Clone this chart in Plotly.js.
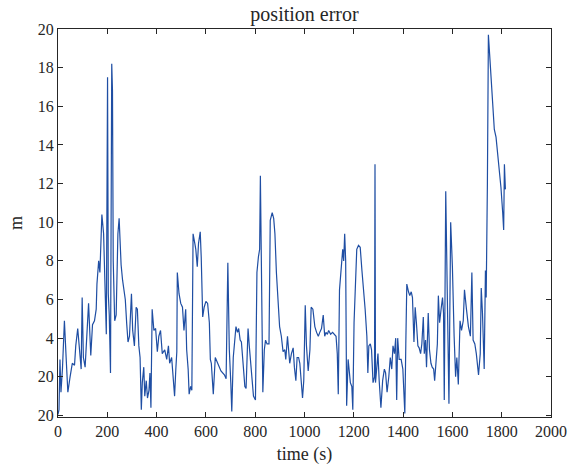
<!DOCTYPE html>
<html>
<head>
<meta charset="utf-8">
<script src="https://cdn.plot.ly/plotly-3.0.1.min.js"></script>
<style>html,body{margin:0;padding:0;background:#fff;}#chart{width:577px;height:467px;}</style>
</head>
<body>
<div id="chart"></div>
<script>
const timeS = [0,4,8,12,18,26,33,40,49,58,67,72,80,86,94,98,103,110,117,124,133,140,148,155,158,165,170,178,185,192,196,201,204,208,213,218,221,224,230,236,243,248,252,256,262,273,279,284,290,298,303,310,317,322,328,333,338,342,348,352,358,363,369,373,377,382,389,396,403,409,416,423,433,441,448,453,461,468,473,478,482,484,491,498,505,511,518,522,528,532,538,543,548,555,559,565,570,577,581,587,593,600,607,614,618,622,627,630,638,648,661,675,682,689,695,701,705,711,717,722,728,733,739,744,752,758,763,767,771,776,781,788,793,801,807,813,818,821,826,831,837,842,848,856,861,869,875,880,886,893,899,906,913,920,924,931,936,940,947,954,959,965,970,976,981,987,992,997,1003,1008,1015,1022,1027,1034,1042,1049,1056,1062,1069,1076,1082,1087,1093,1098,1106,1114,1122,1128,1133,1137,1142,1147,1152,1155,1159,1163,1167,1171,1177,1181,1186,1192,1196,1201,1207,1212,1219,1226,1233,1240,1246,1253,1257,1261,1267,1272,1278,1284,1286,1288,1294,1298,1303,1310,1317,1324,1329,1335,1342,1348,1354,1359,1365,1370,1374,1378,1384,1392,1399,1407,1411,1415,1422,1427,1433,1438,1444,1449,1454,1460,1465,1471,1476,1482,1486,1491,1495,1502,1507,1513,1518,1524,1528,1534,1539,1543,1548,1555,1560,1564,1567,1573,1578,1582,1586,1593,1600,1607,1613,1618,1624,1631,1637,1644,1649,1657,1665,1673,1679,1684,1691,1697,1706,1713,1717,1722,1729,1734,1737,1742,1746,1751,1756,1763,1770,1777,1784,1790,1797,1804,1808,1811,1815];
const posError = [0.05,0.3,2.9,1.2,2.4,4.9,3.0,1.2,2.0,2.7,2.6,3.6,4.5,3.4,2.4,6.1,3.0,2.5,4.4,5.8,3.1,4.7,4.9,5.5,6.8,8.0,7.4,10.4,9.4,5.8,4.2,17.5,6.3,5.2,2.2,18.2,16.8,8.0,4.9,5.2,9.4,10.2,8.8,7.8,7.0,6.0,4.7,3.8,4.1,6.3,4.4,3.6,5.6,5.5,3.6,3.0,0.3,1.7,2.5,1.0,1.8,0.9,1.3,2.2,0.4,5.5,4.4,4.5,3.3,4.1,4.4,3.2,3.4,2.9,3.6,2.7,3.0,1.8,1.0,2.4,3.3,7.4,6.3,5.8,5.6,4.4,5.5,3.4,2.4,1.1,1.5,1.3,9.4,8.9,8.6,7.7,8.9,9.5,8.2,5.1,5.6,5.9,5.8,4.8,2.9,2.7,1.7,1.1,3.0,2.7,2.3,2.1,1.9,7.9,3.4,1.7,0.2,3.0,4.1,4.6,4.3,4.5,3.9,3.8,2.5,1.5,1.4,2.7,4.5,3.6,2.7,1.8,1.0,0.8,7.4,8.2,8.6,12.4,4.4,1.2,3.4,3.9,3.7,3.7,10.1,10.5,10.2,9.4,7.4,5.6,4.6,4.1,3.3,3.4,2.9,4.1,3.4,2.7,3.2,3.5,2.5,1.8,3.0,3.0,2.7,1.7,0.9,1.8,5.7,3.6,2.3,3.4,5.6,5.5,4.6,4.3,4.1,4.3,4.5,5.2,4.1,4.3,4.2,4.4,4.2,4.3,4.2,4.1,3.2,1.1,6.5,7.2,7.8,8.6,8.0,9.4,8.0,0.5,2.9,2.5,1.7,1.5,0.3,4.8,6.8,8.6,8.8,8.7,7.5,6.5,5.5,4.1,2.2,3.6,3.7,3.4,1.7,2.0,13.0,1.7,2.7,3.2,1.8,0.4,1.8,2.4,2.2,1.2,2.0,3.0,2.4,3.6,3.2,4.0,0.8,4.0,2.9,2.9,2.4,0.1,3.7,6.8,6.4,6.2,6.4,6.1,3.8,5.6,4.8,3.6,3.5,3.2,3.7,5.1,3.2,3.9,2.5,5.3,3.4,2.7,2.5,2.4,1.8,2.7,3.7,6.2,4.8,5.6,6.1,5.3,0.8,11.6,6.7,3.4,0.6,10.0,7.7,4.1,2.0,3.0,1.6,4.9,4.4,4.9,6.5,5.5,4.6,4.1,7.4,3.9,3.7,3.2,2.1,3.2,6.6,5.3,2.4,7.5,6.1,12.0,19.7,18.7,17.5,16.0,14.8,14.4,13.6,12.7,11.8,10.5,9.6,13.0,11.7];
const xTickVals = [0,200,400,600,800,1000,1200,1400,1600,1800,2000];
const yTickVals = [0,2,4,6,8,10,12,14,16,18,20];
const yTickText = ["20","20","4","6","8","10","12","14","16","18","20"];

const serif = "Liberation Serif, Times New Roman, serif";
const axisCommon = {
  showline: true, mirror: "ticks", linecolor: "#262626", linewidth: 1,
  ticks: "inside", ticklen: 5, tickwidth: 1, tickcolor: "#262626",
  showgrid: false, zeroline: false,
  tickfont: {family: serif, size: 16, color: "#262626"}
};
Plotly.newPlot("chart", [{
  x: timeS, y: posError, type: "scatter", mode: "lines",
  line: {color: "#1f4ea3", width: 1.2}
}], {
  width: 577, height: 467,
  margin: {l: 58, r: 26, t: 29, b: 50},
  paper_bgcolor: "#fff", plot_bgcolor: "#fff",
  showlegend: false,
  title: {text: "position error", font: {family: serif, size: 20, color: "#262626"},
          x: 0.5, xref: "paper", y: 1 - 14/467, yref: "container", yanchor: "middle"},
  xaxis: Object.assign({}, axisCommon, {
    range: [0, 2000], tickvals: xTickVals,
    title: {text: "time (s)", font: {family: serif, size: 18, color: "#262626"}, standoff: 8}
  }),
  yaxis: Object.assign({}, axisCommon, {
    range: [-0.08, 20], tickvals: yTickVals, ticktext: yTickText,
    title: {text: "m", font: {family: serif, size: 18, color: "#262626"}, standoff: 10}
  })
}, {displayModeBar: false, staticPlot: true});
</script>
</body>
</html>
